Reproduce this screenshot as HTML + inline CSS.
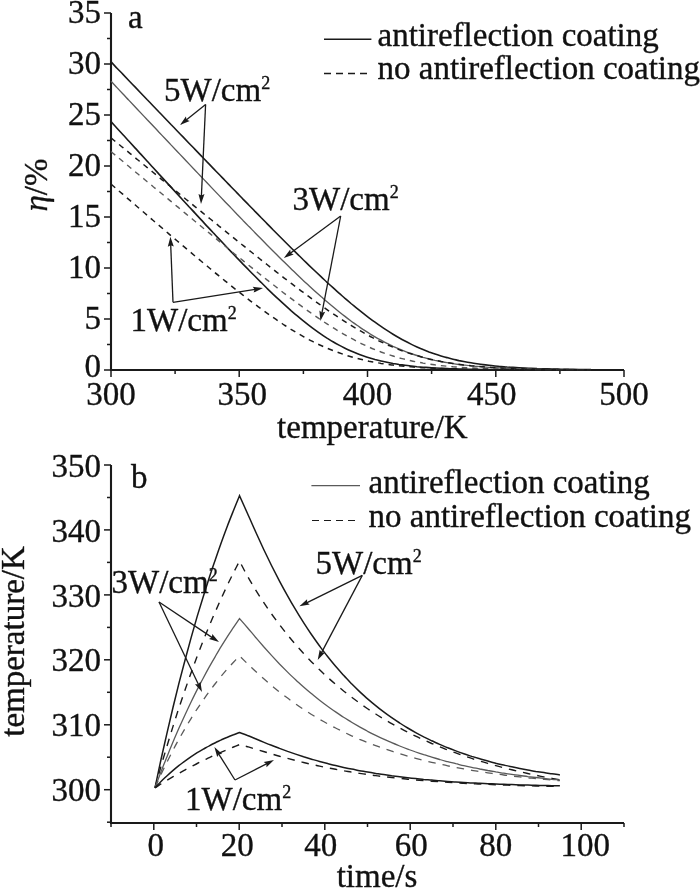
<!DOCTYPE html>
<html><head><meta charset="utf-8"><style>
html,body{margin:0;padding:0;background:#fff;}
svg{display:block;will-change:transform;}
text{font-family:"Liberation Serif",serif;fill:#111;stroke:#111;stroke-width:0.35px;}
</style></head><body>
<svg width="700" height="890" viewBox="0 0 700 890">
<rect width="700" height="890" fill="#fff"/>
<line x1="111.0" y1="13.0" x2="111.0" y2="371.0" stroke="#1a1a1a" stroke-width="2.1" />
<line x1="110.0" y1="370.0" x2="624.0" y2="370.0" stroke="#1a1a1a" stroke-width="2.1" />
<line x1="104.0" y1="370.0" x2="111.0" y2="370.0" stroke="#1a1a1a" stroke-width="1.5" />
<line x1="107.0" y1="344.5" x2="111.0" y2="344.5" stroke="#1a1a1a" stroke-width="1.5" />
<line x1="104.0" y1="319.0" x2="111.0" y2="319.0" stroke="#1a1a1a" stroke-width="1.5" />
<line x1="107.0" y1="293.5" x2="111.0" y2="293.5" stroke="#1a1a1a" stroke-width="1.5" />
<line x1="104.0" y1="268.0" x2="111.0" y2="268.0" stroke="#1a1a1a" stroke-width="1.5" />
<line x1="107.0" y1="242.5" x2="111.0" y2="242.5" stroke="#1a1a1a" stroke-width="1.5" />
<line x1="104.0" y1="217.0" x2="111.0" y2="217.0" stroke="#1a1a1a" stroke-width="1.5" />
<line x1="107.0" y1="191.5" x2="111.0" y2="191.5" stroke="#1a1a1a" stroke-width="1.5" />
<line x1="104.0" y1="166.0" x2="111.0" y2="166.0" stroke="#1a1a1a" stroke-width="1.5" />
<line x1="107.0" y1="140.5" x2="111.0" y2="140.5" stroke="#1a1a1a" stroke-width="1.5" />
<line x1="104.0" y1="115.0" x2="111.0" y2="115.0" stroke="#1a1a1a" stroke-width="1.5" />
<line x1="107.0" y1="89.5" x2="111.0" y2="89.5" stroke="#1a1a1a" stroke-width="1.5" />
<line x1="104.0" y1="64.0" x2="111.0" y2="64.0" stroke="#1a1a1a" stroke-width="1.5" />
<line x1="107.0" y1="38.5" x2="111.0" y2="38.5" stroke="#1a1a1a" stroke-width="1.5" />
<line x1="104.0" y1="13.0" x2="111.0" y2="13.0" stroke="#1a1a1a" stroke-width="1.5" />
<line x1="111.0" y1="370.0" x2="111.0" y2="377.0" stroke="#1a1a1a" stroke-width="1.5" />
<line x1="175.1" y1="370.0" x2="175.1" y2="374.0" stroke="#1a1a1a" stroke-width="1.5" />
<line x1="239.2" y1="370.0" x2="239.2" y2="377.0" stroke="#1a1a1a" stroke-width="1.5" />
<line x1="303.4" y1="370.0" x2="303.4" y2="374.0" stroke="#1a1a1a" stroke-width="1.5" />
<line x1="367.5" y1="370.0" x2="367.5" y2="377.0" stroke="#1a1a1a" stroke-width="1.5" />
<line x1="431.6" y1="370.0" x2="431.6" y2="374.0" stroke="#1a1a1a" stroke-width="1.5" />
<line x1="495.8" y1="370.0" x2="495.8" y2="377.0" stroke="#1a1a1a" stroke-width="1.5" />
<line x1="559.9" y1="370.0" x2="559.9" y2="374.0" stroke="#1a1a1a" stroke-width="1.5" />
<line x1="624.0" y1="370.0" x2="624.0" y2="377.0" stroke="#1a1a1a" stroke-width="1.5" />
<text x="101.0" y="377.0" text-anchor="end" font-size="33" >0</text>
<text x="101.0" y="329.2" text-anchor="end" font-size="33" >5</text>
<text x="101.0" y="278.2" text-anchor="end" font-size="33" >10</text>
<text x="101.0" y="227.2" text-anchor="end" font-size="33" >15</text>
<text x="101.0" y="176.2" text-anchor="end" font-size="33" >20</text>
<text x="101.0" y="125.2" text-anchor="end" font-size="33" >25</text>
<text x="101.0" y="74.2" text-anchor="end" font-size="33" >30</text>
<text x="101.0" y="23.2" text-anchor="end" font-size="33" >35</text>
<text x="111.0" y="404.5" text-anchor="middle" font-size="33" >300</text>
<text x="242.2" y="404.5" text-anchor="middle" font-size="33" >350</text>
<text x="367.5" y="404.5" text-anchor="middle" font-size="33" >400</text>
<text x="491.8" y="404.5" text-anchor="middle" font-size="33" >450</text>
<text x="624.0" y="404.5" text-anchor="middle" font-size="33" >500</text>
<text x="372.4" y="437.6" text-anchor="middle" font-size="33" >temperature/K</text>
<text transform="translate(46.8,185) rotate(-90)" text-anchor="middle" font-size="33"><tspan font-style="italic">η</tspan>/%</text>
<text x="128.0" y="28.0" text-anchor="start" font-size="33" >a</text>
<line x1="324.0" y1="39.3" x2="371.4" y2="39.3" stroke="#1a1a1a" stroke-width="1.6" />
<text x="377.5" y="45.8" text-anchor="start" font-size="33" >antireflection coating</text>
<path d="M324,73.5 L368.6,73.5" fill="none" stroke="#1a1a1a" stroke-width="1.3" stroke-dasharray="7,5"/>
<text x="377.5" y="79.2" text-anchor="start" font-size="33" >no antireflection coating</text>
<path d="M111.0,61.9 C112.0,63.0 115.0,66.1 117.0,68.2 C119.0,70.3 121.0,72.3 123.0,74.4 C125.0,76.5 127.0,78.6 129.0,80.7 C131.0,82.8 133.0,84.9 135.0,86.9 C137.0,89.0 139.0,91.1 141.0,93.2 C143.0,95.3 145.0,97.4 147.0,99.5 C149.0,101.5 151.0,103.6 153.0,105.7 C155.0,107.8 157.0,109.9 159.0,112.0 C161.0,114.0 163.0,116.1 165.0,118.2 C167.0,120.3 169.0,122.4 171.0,124.5 C173.0,126.5 175.0,128.6 177.0,130.7 C179.0,132.8 181.0,134.9 183.0,136.9 C185.0,139.0 187.0,141.1 189.0,143.2 C191.0,145.3 193.0,147.3 195.0,149.4 C197.0,151.5 199.0,153.6 201.0,155.6 C203.0,157.7 205.0,159.8 207.0,161.9 C209.0,163.9 211.0,166.0 213.0,168.1 C215.0,170.2 217.0,172.2 219.0,174.3 C221.0,176.4 223.0,178.4 225.0,180.5 C227.0,182.6 229.0,184.6 231.0,186.7 C233.0,188.8 235.0,190.8 237.0,192.9 C239.0,195.0 241.0,197.0 243.0,199.1 C245.0,201.1 247.0,203.2 249.0,205.2 C251.0,207.3 253.0,209.3 255.0,211.4 C257.0,213.4 259.0,215.4 261.0,217.5 C263.0,219.5 265.0,221.6 267.0,223.6 C269.0,225.6 271.0,227.6 273.0,229.7 C275.0,231.7 277.0,233.7 279.0,235.7 C281.0,237.7 283.0,239.7 285.0,241.7 C287.0,243.7 289.0,245.7 291.0,247.7 C293.0,249.7 295.0,251.6 297.0,253.6 C299.0,255.6 301.0,257.5 303.0,259.5 C305.0,261.4 307.0,263.4 309.0,265.3 C311.0,267.2 313.0,269.1 315.0,271.0 C317.0,272.9 319.0,274.8 321.0,276.7 C323.0,278.6 325.0,280.4 327.0,282.3 C329.0,284.1 331.0,285.9 333.0,287.7 C335.0,289.6 337.0,291.3 339.0,293.1 C341.0,294.9 343.0,296.6 345.0,298.4 C347.0,300.1 349.0,301.8 351.0,303.5 C353.0,305.1 355.0,306.8 357.0,308.4 C359.0,310.0 361.0,311.6 363.0,313.2 C365.0,314.8 367.0,316.3 369.0,317.8 C371.0,319.3 373.0,320.8 375.0,322.2 C377.0,323.7 379.0,325.1 381.0,326.4 C383.0,327.8 385.0,329.1 387.0,330.4 C389.0,331.7 391.0,333.0 393.0,334.2 C395.0,335.4 397.0,336.6 399.0,337.7 C401.0,338.9 403.0,340.0 405.0,341.0 C407.0,342.1 409.0,343.1 411.0,344.1 C413.0,345.1 415.0,346.0 417.0,346.9 C419.0,347.8 421.0,348.7 423.0,349.5 C425.0,350.3 427.0,351.1 429.0,351.9 C431.0,352.6 433.0,353.3 435.0,354.0 C437.0,354.7 439.0,355.3 441.0,355.9 C443.0,356.5 445.0,357.1 447.0,357.6 C449.0,358.2 451.0,358.7 453.0,359.2 C455.0,359.7 457.0,360.1 459.0,360.6 C461.0,361.0 463.0,361.4 465.0,361.8 C467.0,362.2 469.0,362.5 471.0,362.8 C473.0,363.2 475.0,363.5 477.0,363.8 C479.0,364.1 481.0,364.4 483.0,364.6 C485.0,364.9 487.0,365.1 489.0,365.3 C491.0,365.6 493.0,365.8 495.0,366.0 C497.0,366.2 499.0,366.3 501.0,366.5 C503.0,366.7 505.0,366.8 507.0,367.0 C509.0,367.1 511.0,367.3 513.0,367.4 C515.0,367.5 517.0,367.7 519.0,367.8 C521.0,367.9 523.0,368.0 525.0,368.1 C527.0,368.2 529.0,368.3 531.0,368.3 C533.0,368.4 535.0,368.5 537.0,368.6 C539.0,368.6 541.0,368.7 543.0,368.8 C545.0,368.8 547.0,368.9 549.0,368.9 C551.0,369.0 553.0,369.0 555.0,369.1 C557.0,369.1 559.0,369.2 561.0,369.2 C563.0,369.3 565.0,369.3 567.0,369.3 C569.0,369.4 571.0,369.4 573.0,369.4 C575.0,369.5 577.0,369.5 579.0,369.5 C581.0,369.5 583.0,369.6 585.0,369.6 C587.0,369.6 590.0,369.6 591.0,369.6" fill="none" stroke="#1a1a1a" stroke-width="1.6"/>
<path d="M111.0,81.3 C112.0,82.3 115.0,85.5 117.0,87.6 C119.0,89.8 121.0,91.9 123.0,94.0 C125.0,96.1 127.0,98.3 129.0,100.4 C131.0,102.5 133.0,104.6 135.0,106.7 C137.0,108.9 139.0,111.0 141.0,113.1 C143.0,115.2 145.0,117.3 147.0,119.5 C149.0,121.6 151.0,123.7 153.0,125.8 C155.0,127.9 157.0,130.0 159.0,132.2 C161.0,134.3 163.0,136.4 165.0,138.5 C167.0,140.6 169.0,142.7 171.0,144.9 C173.0,147.0 175.0,149.1 177.0,151.2 C179.0,153.3 181.0,155.4 183.0,157.5 C185.0,159.7 187.0,161.8 189.0,163.9 C191.0,166.0 193.0,168.1 195.0,170.2 C197.0,172.3 199.0,174.4 201.0,176.5 C203.0,178.6 205.0,180.7 207.0,182.8 C209.0,184.9 211.0,187.0 213.0,189.1 C215.0,191.2 217.0,193.3 219.0,195.4 C221.0,197.5 223.0,199.6 225.0,201.7 C227.0,203.8 229.0,205.8 231.0,207.9 C233.0,210.0 235.0,212.1 237.0,214.2 C239.0,216.2 241.0,218.3 243.0,220.4 C245.0,222.4 247.0,224.5 249.0,226.6 C251.0,228.6 253.0,230.7 255.0,232.7 C257.0,234.8 259.0,236.8 261.0,238.8 C263.0,240.9 265.0,242.9 267.0,244.9 C269.0,246.9 271.0,248.9 273.0,250.9 C275.0,252.9 277.0,254.9 279.0,256.9 C281.0,258.9 283.0,260.9 285.0,262.8 C287.0,264.8 289.0,266.8 291.0,268.7 C293.0,270.6 295.0,272.6 297.0,274.5 C299.0,276.4 301.0,278.3 303.0,280.2 C305.0,282.0 307.0,283.9 309.0,285.7 C311.0,287.6 313.0,289.4 315.0,291.2 C317.0,293.0 319.0,294.8 321.0,296.6 C323.0,298.3 325.0,300.1 327.0,301.8 C329.0,303.5 331.0,305.2 333.0,306.8 C335.0,308.5 337.0,310.1 339.0,311.7 C341.0,313.3 343.0,314.9 345.0,316.4 C347.0,318.0 349.0,319.5 351.0,321.0 C353.0,322.4 355.0,323.9 357.0,325.3 C359.0,326.7 361.0,328.0 363.0,329.4 C365.0,330.7 367.0,332.0 369.0,333.2 C371.0,334.5 373.0,335.7 375.0,336.8 C377.0,338.0 379.0,339.1 381.0,340.2 C383.0,341.3 385.0,342.4 387.0,343.4 C389.0,344.4 391.0,345.3 393.0,346.3 C395.0,347.2 397.0,348.1 399.0,348.9 C401.0,349.8 403.0,350.6 405.0,351.3 C407.0,352.1 409.0,352.8 411.0,353.5 C413.0,354.2 415.0,354.9 417.0,355.5 C419.0,356.1 421.0,356.7 423.0,357.3 C425.0,357.8 427.0,358.4 429.0,358.9 C431.0,359.4 433.0,359.8 435.0,360.3 C437.0,360.7 439.0,361.1 441.0,361.5 C443.0,361.9 445.0,362.3 447.0,362.6 C449.0,363.0 451.0,363.3 453.0,363.6 C455.0,363.9 457.0,364.2 459.0,364.5 C461.0,364.7 463.0,365.0 465.0,365.2 C467.0,365.4 469.0,365.6 471.0,365.9 C473.0,366.1 475.0,366.2 477.0,366.4 C479.0,366.6 481.0,366.8 483.0,366.9 C485.0,367.1 487.0,367.2 489.0,367.3 C491.0,367.5 493.0,367.6 495.0,367.7 C497.0,367.8 499.0,367.9 501.0,368.0 C503.0,368.1 505.0,368.2 507.0,368.3 C509.0,368.4 511.0,368.5 513.0,368.5 C515.0,368.6 517.0,368.7 519.0,368.7 C521.0,368.8 523.0,368.9 525.0,368.9 C527.0,369.0 529.0,369.0 531.0,369.1 C533.0,369.1 535.0,369.2 537.0,369.2 C539.0,369.2 541.0,369.3 543.0,369.3 C545.0,369.3 547.0,369.4 549.0,369.4 C551.0,369.4 553.0,369.5 555.0,369.5 C557.0,369.5 559.0,369.5 561.0,369.6 C563.0,369.6 565.0,369.6 567.0,369.6 C569.0,369.6 571.0,369.7 573.0,369.7 C575.0,369.7 577.0,369.7 579.0,369.7 C581.0,369.7 583.0,369.8 585.0,369.8 C587.0,369.8 590.0,369.8 591.0,369.8" fill="none" stroke="#5a5a5a" stroke-width="1.35"/>
<path d="M111.0,121.6 C112.0,122.7 115.0,126.0 117.0,128.2 C119.0,130.4 121.0,132.6 123.0,134.8 C125.0,137.0 127.0,139.1 129.0,141.3 C131.0,143.5 133.0,145.7 135.0,147.9 C137.0,150.1 139.0,152.2 141.0,154.4 C143.0,156.6 145.0,158.8 147.0,161.0 C149.0,163.2 151.0,165.3 153.0,167.5 C155.0,169.7 157.0,171.9 159.0,174.1 C161.0,176.2 163.0,178.4 165.0,180.6 C167.0,182.8 169.0,185.0 171.0,187.1 C173.0,189.3 175.0,191.5 177.0,193.6 C179.0,195.8 181.0,198.0 183.0,200.2 C185.0,202.3 187.0,204.5 189.0,206.7 C191.0,208.8 193.0,211.0 195.0,213.1 C197.0,215.3 199.0,217.5 201.0,219.6 C203.0,221.8 205.0,223.9 207.0,226.1 C209.0,228.2 211.0,230.3 213.0,232.5 C215.0,234.6 217.0,236.8 219.0,238.9 C221.0,241.0 223.0,243.1 225.0,245.2 C227.0,247.4 229.0,249.5 231.0,251.6 C233.0,253.7 235.0,255.8 237.0,257.9 C239.0,259.9 241.0,262.0 243.0,264.1 C245.0,266.1 247.0,268.2 249.0,270.2 C251.0,272.3 253.0,274.3 255.0,276.3 C257.0,278.4 259.0,280.4 261.0,282.3 C263.0,284.3 265.0,286.3 267.0,288.3 C269.0,290.2 271.0,292.1 273.0,294.1 C275.0,296.0 277.0,297.9 279.0,299.7 C281.0,301.6 283.0,303.4 285.0,305.2 C287.0,307.0 289.0,308.8 291.0,310.6 C293.0,312.3 295.0,314.1 297.0,315.7 C299.0,317.4 301.0,319.1 303.0,320.7 C305.0,322.3 307.0,323.9 309.0,325.4 C311.0,327.0 313.0,328.5 315.0,329.9 C317.0,331.4 319.0,332.8 321.0,334.1 C323.0,335.5 325.0,336.8 327.0,338.1 C329.0,339.3 331.0,340.6 333.0,341.7 C335.0,342.9 337.0,344.0 339.0,345.1 C341.0,346.2 343.0,347.2 345.0,348.2 C347.0,349.2 349.0,350.1 351.0,351.0 C353.0,351.9 355.0,352.7 357.0,353.5 C359.0,354.3 361.0,355.0 363.0,355.7 C365.0,356.4 367.0,357.1 369.0,357.7 C371.0,358.3 373.0,358.9 375.0,359.5 C377.0,360.0 379.0,360.5 381.0,361.0 C383.0,361.5 385.0,361.9 387.0,362.3 C389.0,362.7 391.0,363.1 393.0,363.5 C395.0,363.8 397.0,364.1 399.0,364.5 C401.0,364.8 403.0,365.0 405.0,365.3 C407.0,365.6 409.0,365.8 411.0,366.0 C413.0,366.3 415.0,366.5 417.0,366.7 C419.0,366.8 421.0,367.0 423.0,367.2 C425.0,367.3 427.0,367.5 429.0,367.6 C431.0,367.8 433.0,367.9 435.0,368.0 C437.0,368.1 439.0,368.2 441.0,368.3 C443.0,368.4 445.0,368.5 447.0,368.6 C449.0,368.7 451.0,368.7 453.0,368.8 C455.0,368.9 457.0,368.9 459.0,369.0 C461.0,369.1 463.0,369.1 465.0,369.2 C467.0,369.2 469.0,369.3 471.0,369.3 C473.0,369.3 475.0,369.4 477.0,369.4 C479.0,369.4 481.0,369.5 483.0,369.5 C485.0,369.5 487.0,369.6 489.0,369.6 C491.0,369.6 493.0,369.6 495.0,369.7 C497.0,369.7 499.0,369.7 501.0,369.7 C503.0,369.7 505.0,369.7 507.0,369.8 C509.0,369.8 511.0,369.8 513.0,369.8 C515.0,369.8 517.0,369.8 519.0,369.8 C521.0,369.8 523.0,369.9 525.0,369.9 C527.0,369.9 529.0,369.9 531.0,369.9 C533.0,369.9 535.0,369.9 537.0,369.9 C539.0,369.9 541.0,369.9 543.0,369.9 C545.0,369.9 547.0,369.9 549.0,369.9 C551.0,369.9 553.0,369.9 555.0,369.9 C557.0,369.9 559.0,369.9 561.0,370.0 C563.0,370.0 565.0,370.0 567.0,370.0 C569.0,370.0 571.0,370.0 573.0,370.0 C575.0,370.0 577.0,370.0 579.0,370.0 C581.0,370.0 583.0,370.0 585.0,370.0 C587.0,370.0 590.0,370.0 591.0,370.0" fill="none" stroke="#1a1a1a" stroke-width="1.6"/>
<path d="M111.0,137.9 C112.0,138.7 115.0,141.2 117.0,142.8 C119.0,144.4 121.0,146.1 123.0,147.7 C125.0,149.4 127.0,151.0 129.0,152.6 C131.0,154.3 133.0,155.9 135.0,157.5 C137.0,159.2 139.0,160.8 141.0,162.5 C143.0,164.1 145.0,165.7 147.0,167.4 C149.0,169.0 151.0,170.6 153.0,172.3 C155.0,173.9 157.0,175.5 159.0,177.2 C161.0,178.8 163.0,180.4 165.0,182.1 C167.0,183.7 169.0,185.3 171.0,187.0 C173.0,188.6 175.0,190.2 177.0,191.9 C179.0,193.5 181.0,195.1 183.0,196.8 C185.0,198.4 187.0,200.0 189.0,201.7 C191.0,203.3 193.0,204.9 195.0,206.6 C197.0,208.2 199.0,209.8 201.0,211.4 C203.0,213.1 205.0,214.7 207.0,216.3 C209.0,217.9 211.0,219.6 213.0,221.2 C215.0,222.8 217.0,224.4 219.0,226.1 C221.0,227.7 223.0,229.3 225.0,230.9 C227.0,232.5 229.0,234.1 231.0,235.8 C233.0,237.4 235.0,239.0 237.0,240.6 C239.0,242.2 241.0,243.8 243.0,245.4 C245.0,247.0 247.0,248.6 249.0,250.2 C251.0,251.8 253.0,253.4 255.0,255.0 C257.0,256.6 259.0,258.2 261.0,259.8 C263.0,261.4 265.0,262.9 267.0,264.5 C269.0,266.1 271.0,267.7 273.0,269.2 C275.0,270.8 277.0,272.4 279.0,273.9 C281.0,275.5 283.0,277.0 285.0,278.6 C287.0,280.1 289.0,281.6 291.0,283.2 C293.0,284.7 295.0,286.2 297.0,287.7 C299.0,289.2 301.0,290.8 303.0,292.2 C305.0,293.7 307.0,295.2 309.0,296.7 C311.0,298.2 313.0,299.6 315.0,301.1 C317.0,302.5 319.0,303.9 321.0,305.4 C323.0,306.8 325.0,308.2 327.0,309.6 C329.0,311.0 331.0,312.3 333.0,313.7 C335.0,315.0 337.0,316.4 339.0,317.7 C341.0,319.0 343.0,320.3 345.0,321.6 C347.0,322.9 349.0,324.1 351.0,325.3 C353.0,326.6 355.0,327.8 357.0,329.0 C359.0,330.1 361.0,331.3 363.0,332.4 C365.0,333.5 367.0,334.6 369.0,335.7 C371.0,336.8 373.0,337.8 375.0,338.9 C377.0,339.9 379.0,340.9 381.0,341.8 C383.0,342.8 385.0,343.7 387.0,344.6 C389.0,345.5 391.0,346.3 393.0,347.2 C395.0,348.0 397.0,348.8 399.0,349.6 C401.0,350.4 403.0,351.1 405.0,351.8 C407.0,352.5 409.0,353.2 411.0,353.8 C413.0,354.5 415.0,355.1 417.0,355.7 C419.0,356.3 421.0,356.8 423.0,357.4 C425.0,357.9 427.0,358.4 429.0,358.9 C431.0,359.4 433.0,359.8 435.0,360.2 C437.0,360.7 439.0,361.1 441.0,361.5 C443.0,361.8 445.0,362.2 447.0,362.5 C449.0,362.9 451.0,363.2 453.0,363.5 C455.0,363.8 457.0,364.1 459.0,364.3 C461.0,364.6 463.0,364.8 465.0,365.1 C467.0,365.3 469.0,365.5 471.0,365.7 C473.0,365.9 475.0,366.1 477.0,366.3 C479.0,366.5 481.0,366.6 483.0,366.8 C485.0,367.0 487.0,367.1 489.0,367.2 C491.0,367.4 493.0,367.5 495.0,367.6 C497.0,367.7 499.0,367.8 501.0,367.9 C503.0,368.0 505.0,368.1 507.0,368.2 C509.0,368.3 511.0,368.4 513.0,368.5 C515.0,368.5 517.0,368.6 519.0,368.7 C521.0,368.7 523.0,368.8 525.0,368.9 C527.0,368.9 529.0,369.0 531.0,369.0 C533.0,369.1 535.0,369.1 537.0,369.2 C539.0,369.2 541.0,369.2 543.0,369.3 C545.0,369.3 547.0,369.3 549.0,369.4 C551.0,369.4 553.0,369.4 555.0,369.5 C557.0,369.5 559.0,369.5 561.0,369.5 C563.0,369.6 565.0,369.6 567.0,369.6 C569.0,369.6 571.0,369.6 573.0,369.7 C575.0,369.7 577.0,369.7 579.0,369.7 C581.0,369.7 583.0,369.7 585.0,369.8 C587.0,369.8 590.0,369.8 591.0,369.8" fill="none" stroke="#1a1a1a" stroke-width="1.5" stroke-dasharray="5.5,5"/>
<path d="M111.0,151.5 C112.0,152.4 115.0,154.9 117.0,156.5 C119.0,158.2 121.0,159.9 123.0,161.5 C125.0,163.2 127.0,164.8 129.0,166.5 C131.0,168.2 133.0,169.8 135.0,171.5 C137.0,173.2 139.0,174.8 141.0,176.5 C143.0,178.2 145.0,179.8 147.0,181.5 C149.0,183.1 151.0,184.8 153.0,186.5 C155.0,188.1 157.0,189.8 159.0,191.4 C161.0,193.1 163.0,194.8 165.0,196.4 C167.0,198.1 169.0,199.7 171.0,201.4 C173.0,203.1 175.0,204.7 177.0,206.4 C179.0,208.0 181.0,209.7 183.0,211.4 C185.0,213.0 187.0,214.7 189.0,216.3 C191.0,218.0 193.0,219.6 195.0,221.3 C197.0,222.9 199.0,224.6 201.0,226.2 C203.0,227.9 205.0,229.5 207.0,231.2 C209.0,232.8 211.0,234.5 213.0,236.1 C215.0,237.8 217.0,239.4 219.0,241.1 C221.0,242.7 223.0,244.3 225.0,246.0 C227.0,247.6 229.0,249.3 231.0,250.9 C233.0,252.5 235.0,254.1 237.0,255.8 C239.0,257.4 241.0,259.0 243.0,260.6 C245.0,262.3 247.0,263.9 249.0,265.5 C251.0,267.1 253.0,268.7 255.0,270.3 C257.0,271.9 259.0,273.5 261.0,275.1 C263.0,276.7 265.0,278.3 267.0,279.9 C269.0,281.4 271.0,283.0 273.0,284.6 C275.0,286.1 277.0,287.7 279.0,289.3 C281.0,290.8 283.0,292.3 285.0,293.9 C287.0,295.4 289.0,296.9 291.0,298.4 C293.0,299.9 295.0,301.4 297.0,302.9 C299.0,304.4 301.0,305.9 303.0,307.3 C305.0,308.8 307.0,310.2 309.0,311.6 C311.0,313.1 313.0,314.5 315.0,315.8 C317.0,317.2 319.0,318.6 321.0,319.9 C323.0,321.3 325.0,322.6 327.0,323.9 C329.0,325.2 331.0,326.5 333.0,327.7 C335.0,329.0 337.0,330.2 339.0,331.4 C341.0,332.6 343.0,333.8 345.0,334.9 C347.0,336.1 349.0,337.2 351.0,338.2 C353.0,339.3 355.0,340.4 357.0,341.4 C359.0,342.4 361.0,343.4 363.0,344.3 C365.0,345.3 367.0,346.2 369.0,347.1 C371.0,348.0 373.0,348.8 375.0,349.6 C377.0,350.4 379.0,351.2 381.0,352.0 C383.0,352.7 385.0,353.4 387.0,354.1 C389.0,354.8 391.0,355.4 393.0,356.0 C395.0,356.7 397.0,357.2 399.0,357.8 C401.0,358.3 403.0,358.9 405.0,359.3 C407.0,359.8 409.0,360.3 411.0,360.7 C413.0,361.2 415.0,361.6 417.0,362.0 C419.0,362.4 421.0,362.7 423.0,363.1 C425.0,363.4 427.0,363.7 429.0,364.0 C431.0,364.3 433.0,364.6 435.0,364.9 C437.0,365.1 439.0,365.4 441.0,365.6 C443.0,365.8 445.0,366.0 447.0,366.2 C449.0,366.4 451.0,366.6 453.0,366.8 C455.0,366.9 457.0,367.1 459.0,367.2 C461.0,367.4 463.0,367.5 465.0,367.6 C467.0,367.8 469.0,367.9 471.0,368.0 C473.0,368.1 475.0,368.2 477.0,368.3 C479.0,368.4 481.0,368.5 483.0,368.5 C485.0,368.6 487.0,368.7 489.0,368.7 C491.0,368.8 493.0,368.9 495.0,368.9 C497.0,369.0 499.0,369.0 501.0,369.1 C503.0,369.1 505.0,369.2 507.0,369.2 C509.0,369.3 511.0,369.3 513.0,369.3 C515.0,369.4 517.0,369.4 519.0,369.4 C521.0,369.5 523.0,369.5 525.0,369.5 C527.0,369.6 529.0,369.6 531.0,369.6 C533.0,369.6 535.0,369.6 537.0,369.7 C539.0,369.7 541.0,369.7 543.0,369.7 C545.0,369.7 547.0,369.7 549.0,369.8 C551.0,369.8 553.0,369.8 555.0,369.8 C557.0,369.8 559.0,369.8 561.0,369.8 C563.0,369.8 565.0,369.8 567.0,369.8 C569.0,369.9 571.0,369.9 573.0,369.9 C575.0,369.9 577.0,369.9 579.0,369.9 C581.0,369.9 583.0,369.9 585.0,369.9 C587.0,369.9 590.0,369.9 591.0,369.9" fill="none" stroke="#5a5a5a" stroke-width="1.4" stroke-dasharray="5.5,5"/>
<path d="M111.0,184.1 C112.0,184.9 115.0,187.5 117.0,189.3 C119.0,191.0 121.0,192.7 123.0,194.4 C125.0,196.2 127.0,197.9 129.0,199.6 C131.0,201.3 133.0,203.1 135.0,204.8 C137.0,206.5 139.0,208.2 141.0,209.9 C143.0,211.7 145.0,213.4 147.0,215.1 C149.0,216.8 151.0,218.5 153.0,220.3 C155.0,222.0 157.0,223.7 159.0,225.4 C161.0,227.1 163.0,228.8 165.0,230.5 C167.0,232.2 169.0,234.0 171.0,235.7 C173.0,237.4 175.0,239.1 177.0,240.8 C179.0,242.5 181.0,244.2 183.0,245.9 C185.0,247.6 187.0,249.2 189.0,250.9 C191.0,252.6 193.0,254.3 195.0,256.0 C197.0,257.7 199.0,259.4 201.0,261.0 C203.0,262.7 205.0,264.4 207.0,266.0 C209.0,267.7 211.0,269.3 213.0,271.0 C215.0,272.7 217.0,274.3 219.0,275.9 C221.0,277.6 223.0,279.2 225.0,280.8 C227.0,282.4 229.0,284.1 231.0,285.7 C233.0,287.3 235.0,288.9 237.0,290.4 C239.0,292.0 241.0,293.6 243.0,295.2 C245.0,296.7 247.0,298.3 249.0,299.8 C251.0,301.3 253.0,302.9 255.0,304.4 C257.0,305.9 259.0,307.3 261.0,308.8 C263.0,310.3 265.0,311.7 267.0,313.2 C269.0,314.6 271.0,316.0 273.0,317.4 C275.0,318.8 277.0,320.2 279.0,321.5 C281.0,322.8 283.0,324.2 285.0,325.5 C287.0,326.8 289.0,328.0 291.0,329.3 C293.0,330.5 295.0,331.7 297.0,332.9 C299.0,334.1 301.0,335.2 303.0,336.3 C305.0,337.5 307.0,338.5 309.0,339.6 C311.0,340.6 313.0,341.7 315.0,342.7 C317.0,343.6 319.0,344.6 321.0,345.5 C323.0,346.4 325.0,347.3 327.0,348.2 C329.0,349.0 331.0,349.8 333.0,350.6 C335.0,351.4 337.0,352.1 339.0,352.8 C341.0,353.5 343.0,354.2 345.0,354.9 C347.0,355.5 349.0,356.1 351.0,356.7 C353.0,357.3 355.0,357.8 357.0,358.4 C359.0,358.9 361.0,359.4 363.0,359.8 C365.0,360.3 367.0,360.7 369.0,361.2 C371.0,361.6 373.0,362.0 375.0,362.3 C377.0,362.7 379.0,363.0 381.0,363.4 C383.0,363.7 385.0,364.0 387.0,364.3 C389.0,364.5 391.0,364.8 393.0,365.0 C395.0,365.3 397.0,365.5 399.0,365.7 C401.0,365.9 403.0,366.1 405.0,366.3 C407.0,366.5 409.0,366.7 411.0,366.8 C413.0,367.0 415.0,367.2 417.0,367.3 C419.0,367.4 421.0,367.6 423.0,367.7 C425.0,367.8 427.0,367.9 429.0,368.0 C431.0,368.1 433.0,368.2 435.0,368.3 C437.0,368.4 439.0,368.5 441.0,368.5 C443.0,368.6 445.0,368.7 447.0,368.8 C449.0,368.8 451.0,368.9 453.0,368.9 C455.0,369.0 457.0,369.0 459.0,369.1 C461.0,369.1 463.0,369.2 465.0,369.2 C467.0,369.3 469.0,369.3 471.0,369.3 C473.0,369.4 475.0,369.4 477.0,369.4 C479.0,369.5 481.0,369.5 483.0,369.5 C485.0,369.5 487.0,369.6 489.0,369.6 C491.0,369.6 493.0,369.6 495.0,369.6 C497.0,369.7 499.0,369.7 501.0,369.7 C503.0,369.7 505.0,369.7 507.0,369.7 C509.0,369.8 511.0,369.8 513.0,369.8 C515.0,369.8 517.0,369.8 519.0,369.8 C521.0,369.8 523.0,369.8 525.0,369.8 C527.0,369.9 529.0,369.9 531.0,369.9 C533.0,369.9 535.0,369.9 537.0,369.9 C539.0,369.9 541.0,369.9 543.0,369.9 C545.0,369.9 547.0,369.9 549.0,369.9 C551.0,369.9 553.0,369.9 555.0,369.9 C557.0,369.9 559.0,369.9 561.0,369.9 C563.0,369.9 565.0,369.9 567.0,369.9 C569.0,370.0 571.0,370.0 573.0,370.0 C575.0,370.0 577.0,370.0 579.0,370.0 C581.0,370.0 583.0,370.0 585.0,370.0 C587.0,370.0 590.0,370.0 591.0,370.0" fill="none" stroke="#1a1a1a" stroke-width="1.5" stroke-dasharray="5.5,5"/>
<text x="164.0" y="101.0" font-size="33">5W/cm<tspan font-size="18" dy="-12">2</tspan></text>
<line x1="205.6" y1="104.4" x2="186.2" y2="120.0" stroke="#1a1a1a" stroke-width="1.3" />
<polygon points="180.0,125.0 185.9,116.4 186.6,119.7 189.7,121.1" fill="#1a1a1a"/>
<line x1="205.6" y1="104.4" x2="201.4" y2="196.0" stroke="#1a1a1a" stroke-width="1.3" />
<polygon points="201.0,204.0 198.5,193.9 201.4,195.5 204.5,194.1" fill="#1a1a1a"/>
<text x="292.5" y="209.6" font-size="33">3W/cm<tspan font-size="18" dy="-12">2</tspan></text>
<line x1="340.7" y1="216.0" x2="290.3" y2="253.2" stroke="#1a1a1a" stroke-width="1.3" />
<polygon points="283.9,257.9 290.2,249.5 290.7,252.9 293.7,254.4" fill="#1a1a1a"/>
<line x1="340.7" y1="216.0" x2="321.9" y2="313.1" stroke="#1a1a1a" stroke-width="1.3" />
<polygon points="320.4,321.0 319.4,310.6 322.0,312.7 325.2,311.8" fill="#1a1a1a"/>
<text x="130.5" y="330.6" font-size="33">1W/cm<tspan font-size="18" dy="-12">2</tspan></text>
<line x1="173.0" y1="302.3" x2="170.7" y2="244.7" stroke="#1a1a1a" stroke-width="1.3" />
<polygon points="170.4,236.7 173.8,246.6 170.7,245.2 167.8,246.8" fill="#1a1a1a"/>
<line x1="173.0" y1="302.3" x2="255.1" y2="289.3" stroke="#1a1a1a" stroke-width="1.3" />
<polygon points="263.0,288.1 253.6,292.6 254.6,289.4 252.7,286.7" fill="#1a1a1a"/>
<line x1="111.0" y1="465.0" x2="111.0" y2="824.0" stroke="#1a1a1a" stroke-width="2.1" />
<line x1="110.0" y1="823.0" x2="624.0" y2="823.0" stroke="#1a1a1a" stroke-width="2.1" />
<line x1="107.0" y1="822.2" x2="111.0" y2="822.2" stroke="#1a1a1a" stroke-width="1.5" />
<line x1="104.0" y1="789.7" x2="111.0" y2="789.7" stroke="#1a1a1a" stroke-width="1.5" />
<line x1="107.0" y1="757.2" x2="111.0" y2="757.2" stroke="#1a1a1a" stroke-width="1.5" />
<line x1="104.0" y1="724.8" x2="111.0" y2="724.8" stroke="#1a1a1a" stroke-width="1.5" />
<line x1="107.0" y1="692.3" x2="111.0" y2="692.3" stroke="#1a1a1a" stroke-width="1.5" />
<line x1="104.0" y1="659.8" x2="111.0" y2="659.8" stroke="#1a1a1a" stroke-width="1.5" />
<line x1="107.0" y1="627.4" x2="111.0" y2="627.4" stroke="#1a1a1a" stroke-width="1.5" />
<line x1="104.0" y1="594.9" x2="111.0" y2="594.9" stroke="#1a1a1a" stroke-width="1.5" />
<line x1="107.0" y1="562.4" x2="111.0" y2="562.4" stroke="#1a1a1a" stroke-width="1.5" />
<line x1="104.0" y1="529.9" x2="111.0" y2="529.9" stroke="#1a1a1a" stroke-width="1.5" />
<line x1="107.0" y1="497.5" x2="111.0" y2="497.5" stroke="#1a1a1a" stroke-width="1.5" />
<line x1="104.0" y1="465.0" x2="111.0" y2="465.0" stroke="#1a1a1a" stroke-width="1.5" />
<line x1="111.0" y1="823.0" x2="111.0" y2="827.0" stroke="#1a1a1a" stroke-width="1.5" />
<line x1="153.8" y1="823.0" x2="153.8" y2="830.0" stroke="#1a1a1a" stroke-width="1.5" />
<line x1="196.5" y1="823.0" x2="196.5" y2="827.0" stroke="#1a1a1a" stroke-width="1.5" />
<line x1="239.2" y1="823.0" x2="239.2" y2="830.0" stroke="#1a1a1a" stroke-width="1.5" />
<line x1="282.0" y1="823.0" x2="282.0" y2="827.0" stroke="#1a1a1a" stroke-width="1.5" />
<line x1="324.8" y1="823.0" x2="324.8" y2="830.0" stroke="#1a1a1a" stroke-width="1.5" />
<line x1="367.5" y1="823.0" x2="367.5" y2="827.0" stroke="#1a1a1a" stroke-width="1.5" />
<line x1="410.2" y1="823.0" x2="410.2" y2="830.0" stroke="#1a1a1a" stroke-width="1.5" />
<line x1="453.0" y1="823.0" x2="453.0" y2="827.0" stroke="#1a1a1a" stroke-width="1.5" />
<line x1="495.8" y1="823.0" x2="495.8" y2="830.0" stroke="#1a1a1a" stroke-width="1.5" />
<line x1="538.5" y1="823.0" x2="538.5" y2="827.0" stroke="#1a1a1a" stroke-width="1.5" />
<line x1="581.2" y1="823.0" x2="581.2" y2="830.0" stroke="#1a1a1a" stroke-width="1.5" />
<line x1="624.0" y1="823.0" x2="624.0" y2="827.0" stroke="#1a1a1a" stroke-width="1.5" />
<text x="101.0" y="800.5" text-anchor="end" font-size="33" >300</text>
<text x="101.0" y="735.6" text-anchor="end" font-size="33" >310</text>
<text x="101.0" y="670.8" text-anchor="end" font-size="33" >320</text>
<text x="101.0" y="606.7" text-anchor="end" font-size="33" >330</text>
<text x="101.0" y="542.2" text-anchor="end" font-size="33" >340</text>
<text x="101.0" y="477.3" text-anchor="end" font-size="33" >350</text>
<text x="155.8" y="855.5" text-anchor="middle" font-size="33" >0</text>
<text x="237.2" y="855.5" text-anchor="middle" font-size="33" >20</text>
<text x="320.8" y="855.5" text-anchor="middle" font-size="33" >40</text>
<text x="411.2" y="855.5" text-anchor="middle" font-size="33" >60</text>
<text x="495.8" y="855.5" text-anchor="middle" font-size="33" >80</text>
<text x="585.2" y="855.5" text-anchor="middle" font-size="33" >100</text>
<text x="377.0" y="887.4" text-anchor="middle" font-size="33" >time/s</text>
<text transform="translate(24.2,641.5) rotate(-90)" text-anchor="middle" font-size="33">temperature/K</text>
<text x="131.0" y="488.0" text-anchor="start" font-size="33" >b</text>
<line x1="311.4" y1="485.7" x2="360.0" y2="485.7" stroke="#5a5a5a" stroke-width="1.2" />
<text x="368.5" y="492.9" text-anchor="start" font-size="33" >antireflection coating</text>
<path d="M312,520.5 L357,520.5" fill="none" stroke="#1a1a1a" stroke-width="1.2" stroke-dasharray="7,5"/>
<text x="368.5" y="527.1" text-anchor="start" font-size="33" >no antireflection coating</text>
<path d="M155.0,787.8 C156.0,783.1 159.0,768.7 161.0,759.5 C163.0,750.3 165.1,741.3 167.1,732.6 C169.1,723.8 171.1,715.3 173.1,707.0 C175.1,698.7 177.1,690.5 179.1,682.6 C181.2,674.7 183.2,667.0 185.2,659.5 C187.2,651.9 189.2,644.6 191.2,637.4 C193.2,630.2 195.2,623.3 197.2,616.4 C199.3,609.6 201.3,603.0 203.3,596.5 C205.3,590.0 207.3,583.7 209.3,577.5 C211.3,571.4 213.3,565.4 215.4,559.5 C217.4,553.6 219.4,547.9 221.4,542.3 C223.4,536.7 225.4,531.3 227.4,526.0 C229.4,520.7 231.5,515.5 233.5,510.5 C235.5,505.4 238.5,498.2 239.5,495.7 L239.5,495.7 C240.8,498.7 244.8,507.5 247.5,513.5 C250.2,519.4 252.8,525.6 255.5,531.5 C258.2,537.5 260.9,543.3 263.5,549.0 C266.2,554.6 268.9,560.2 271.5,565.5 C274.2,570.9 276.9,576.1 279.5,581.2 C282.2,586.3 284.9,591.2 287.6,595.9 C290.2,600.7 292.9,605.3 295.6,609.7 C298.2,614.2 300.9,618.5 303.6,622.7 C306.2,626.8 308.9,630.8 311.6,634.7 C314.3,638.6 316.9,642.4 319.6,646.0 C322.3,649.6 324.9,653.1 327.6,656.5 C330.3,659.9 332.9,663.1 335.6,666.3 C338.3,669.4 341.0,672.4 343.6,675.3 C346.3,678.3 349.0,681.1 351.6,683.8 C354.3,686.5 357.0,689.1 359.6,691.6 C362.3,694.1 365.0,696.6 367.6,698.9 C370.3,701.2 373.0,703.5 375.7,705.6 C378.3,707.8 381.0,709.9 383.7,711.9 C386.3,713.9 389.0,715.8 391.7,717.7 C394.3,719.5 397.0,721.3 399.7,723.0 C402.4,724.8 405.0,726.4 407.7,728.0 C410.4,729.6 413.0,731.1 415.7,732.6 C418.4,734.1 421.0,735.5 423.7,736.9 C426.4,738.2 429.1,739.5 431.7,740.8 C434.4,742.0 437.1,743.3 439.7,744.4 C442.4,745.6 445.1,746.7 447.7,747.8 C450.4,748.9 453.1,749.9 455.8,750.9 C458.4,751.9 461.1,752.8 463.8,753.7 C466.4,754.7 469.1,755.5 471.8,756.4 C474.4,757.2 477.1,758.0 479.8,758.8 C482.5,759.6 485.1,760.4 487.8,761.1 C490.5,761.8 493.1,762.5 495.8,763.2 C498.5,763.8 501.1,764.5 503.8,765.1 C506.5,765.7 509.1,766.3 511.8,766.8 C514.5,767.4 517.2,768.0 519.8,768.5 C522.5,769.0 525.2,769.5 527.8,770.0 C530.5,770.5 533.2,770.9 535.8,771.4 C538.5,771.8 541.2,772.2 543.9,772.6 C546.5,773.1 549.2,773.4 551.9,773.8 C554.5,774.2 558.5,774.7 559.9,774.9" fill="none" stroke="#1a1a1a" stroke-width="1.5"/>
<path d="M155.0,787.8 C156.0,784.2 159.0,773.3 161.0,766.3 C163.0,759.3 165.1,752.4 167.1,745.7 C169.1,739.0 171.1,732.5 173.1,726.1 C175.1,719.7 177.1,713.5 179.1,707.4 C181.2,701.3 183.2,695.3 185.2,689.5 C187.2,683.7 189.2,678.0 191.2,672.4 C193.2,666.9 195.2,661.4 197.2,656.1 C199.3,650.8 201.3,645.6 203.3,640.6 C205.3,635.5 207.3,630.6 209.3,625.7 C211.3,620.9 213.3,616.2 215.4,611.6 C217.4,606.9 219.4,602.4 221.4,598.0 C223.4,593.6 225.4,589.3 227.4,585.1 C229.4,580.9 231.5,576.8 233.5,572.8 C235.5,568.8 238.5,563.0 239.5,561.0 L239.5,561.0 C240.8,563.5 244.8,571.4 247.5,576.2 C250.2,581.0 252.8,585.4 255.5,589.7 C258.2,594.1 260.9,598.2 263.5,602.2 C266.2,606.3 268.9,610.1 271.5,613.9 C274.2,617.6 276.9,621.2 279.5,624.7 C282.2,628.2 284.9,631.6 287.6,634.9 C290.2,638.2 292.9,641.4 295.6,644.5 C298.2,647.6 300.9,650.5 303.6,653.4 C306.2,656.3 308.9,659.1 311.6,661.9 C314.3,664.6 316.9,667.2 319.6,669.8 C322.3,672.4 324.9,674.9 327.6,677.3 C330.3,679.7 332.9,682.0 335.6,684.3 C338.3,686.6 341.0,688.8 343.6,691.0 C346.3,693.1 349.0,695.2 351.6,697.2 C354.3,699.2 357.0,701.2 359.6,703.1 C362.3,705.0 365.0,706.9 367.6,708.7 C370.3,710.5 373.0,712.3 375.7,714.0 C378.3,715.7 381.0,717.3 383.7,718.9 C386.3,720.5 389.0,722.1 391.7,723.6 C394.3,725.1 397.0,726.6 399.7,728.0 C402.4,729.5 405.0,730.9 407.7,732.2 C410.4,733.6 413.0,734.9 415.7,736.2 C418.4,737.5 421.0,738.7 423.7,739.9 C426.4,741.1 429.1,742.3 431.7,743.5 C434.4,744.6 437.1,745.7 439.7,746.8 C442.4,747.9 445.1,748.9 447.7,750.0 C450.4,751.0 453.1,752.0 455.8,752.9 C458.4,753.9 461.1,754.8 463.8,755.8 C466.4,756.7 469.1,757.6 471.8,758.4 C474.4,759.3 477.1,760.1 479.8,761.0 C482.5,761.8 485.1,762.6 487.8,763.4 C490.5,764.1 493.1,764.9 495.8,765.6 C498.5,766.4 501.1,767.1 503.8,767.8 C506.5,768.5 509.1,769.1 511.8,769.8 C514.5,770.5 517.2,771.1 519.8,771.7 C522.5,772.3 525.2,772.9 527.8,773.5 C530.5,774.1 533.2,774.7 535.8,775.3 C538.5,775.8 541.2,776.4 543.9,776.9 C546.5,777.4 549.2,777.9 551.9,778.4 C554.5,778.9 558.5,779.6 559.9,779.9" fill="none" stroke="#1a1a1a" stroke-width="1.4" stroke-dasharray="7.5,7"/>
<path d="M155.0,787.8 C156.0,785.1 159.0,777.0 161.0,771.7 C163.0,766.5 165.1,761.4 167.1,756.4 C169.1,751.4 171.1,746.5 173.1,741.8 C175.1,737.0 177.1,732.4 179.1,727.8 C181.2,723.2 183.2,718.8 185.2,714.5 C187.2,710.1 189.2,705.9 191.2,701.7 C193.2,697.6 195.2,693.5 197.2,689.6 C199.3,685.6 201.3,681.7 203.3,678.0 C205.3,674.2 207.3,670.5 209.3,666.9 C211.3,663.3 213.3,659.8 215.4,656.3 C217.4,652.9 219.4,649.5 221.4,646.2 C223.4,642.9 225.4,639.7 227.4,636.6 C229.4,633.4 231.5,630.4 233.5,627.4 C235.5,624.4 238.5,620.1 239.5,618.6 L239.5,618.6 C240.8,620.1 244.8,624.6 247.5,627.7 C250.2,630.8 252.8,634.1 255.5,637.2 C258.2,640.3 260.9,643.5 263.5,646.5 C266.2,649.5 268.9,652.5 271.5,655.4 C274.2,658.3 276.9,661.2 279.5,664.0 C282.2,666.7 284.9,669.4 287.6,672.1 C290.2,674.7 292.9,677.2 295.6,679.7 C298.2,682.2 300.9,684.6 303.6,687.0 C306.2,689.3 308.9,691.6 311.6,693.8 C314.3,696.0 316.9,698.2 319.6,700.2 C322.3,702.3 324.9,704.3 327.6,706.3 C330.3,708.2 332.9,710.1 335.6,711.9 C338.3,713.8 341.0,715.5 343.6,717.3 C346.3,719.0 349.0,720.6 351.6,722.2 C354.3,723.8 357.0,725.4 359.6,726.9 C362.3,728.4 365.0,729.8 367.6,731.3 C370.3,732.7 373.0,734.0 375.7,735.3 C378.3,736.6 381.0,737.9 383.7,739.1 C386.3,740.4 389.0,741.5 391.7,742.7 C394.3,743.8 397.0,744.9 399.7,746.0 C402.4,747.1 405.0,748.1 407.7,749.1 C410.4,750.1 413.0,751.1 415.7,752.0 C418.4,752.9 421.0,753.8 423.7,754.7 C426.4,755.5 429.1,756.4 431.7,757.2 C434.4,758.0 437.1,758.8 439.7,759.5 C442.4,760.3 445.1,761.0 447.7,761.7 C450.4,762.4 453.1,763.0 455.8,763.7 C458.4,764.3 461.1,765.0 463.8,765.6 C466.4,766.2 469.1,766.8 471.8,767.3 C474.4,767.9 477.1,768.4 479.8,769.0 C482.5,769.5 485.1,770.0 487.8,770.5 C490.5,770.9 493.1,771.4 495.8,771.9 C498.5,772.3 501.1,772.8 503.8,773.2 C506.5,773.6 509.1,774.0 511.8,774.4 C514.5,774.8 517.2,775.1 519.8,775.5 C522.5,775.9 525.2,776.2 527.8,776.6 C530.5,776.9 533.2,777.2 535.8,777.5 C538.5,777.8 541.2,778.1 543.9,778.4 C546.5,778.7 549.2,779.0 551.9,779.3 C554.5,779.5 558.5,779.9 559.9,780.0" fill="none" stroke="#5a5a5a" stroke-width="1.3"/>
<path d="M155.0,787.8 C156.0,785.6 159.0,778.8 161.0,774.5 C163.0,770.2 165.1,766.0 167.1,761.9 C169.1,757.9 171.1,753.9 173.1,750.1 C175.1,746.2 177.1,742.5 179.1,738.9 C181.2,735.2 183.2,731.7 185.2,728.3 C187.2,724.8 189.2,721.5 191.2,718.3 C193.2,715.0 195.2,711.9 197.2,708.8 C199.3,705.8 201.3,702.8 203.3,699.9 C205.3,697.0 207.3,694.2 209.3,691.5 C211.3,688.8 213.3,686.1 215.4,683.5 C217.4,681.0 219.4,678.5 221.4,676.0 C223.4,673.6 225.4,671.2 227.4,668.9 C229.4,666.6 231.5,664.4 233.5,662.2 C235.5,660.1 238.5,657.0 239.5,655.9 L239.5,655.9 C240.8,657.2 244.8,661.1 247.5,663.7 C250.2,666.2 252.8,668.8 255.5,671.3 C258.2,673.8 260.9,676.2 263.5,678.5 C266.2,680.9 268.9,683.2 271.5,685.4 C274.2,687.7 276.9,689.8 279.5,692.0 C282.2,694.1 284.9,696.1 287.6,698.1 C290.2,700.1 292.9,702.0 295.6,703.9 C298.2,705.8 300.9,707.6 303.6,709.3 C306.2,711.1 308.9,712.8 311.6,714.5 C314.3,716.1 316.9,717.7 319.6,719.3 C322.3,720.8 324.9,722.3 327.6,723.8 C330.3,725.3 332.9,726.7 335.6,728.0 C338.3,729.4 341.0,730.7 343.6,732.0 C346.3,733.3 349.0,734.6 351.6,735.8 C354.3,737.0 357.0,738.1 359.6,739.3 C362.3,740.4 365.0,741.5 367.6,742.5 C370.3,743.6 373.0,744.6 375.7,745.6 C378.3,746.6 381.0,747.6 383.7,748.5 C386.3,749.4 389.0,750.3 391.7,751.2 C394.3,752.1 397.0,752.9 399.7,753.7 C402.4,754.5 405.0,755.3 407.7,756.1 C410.4,756.9 413.0,757.6 415.7,758.3 C418.4,759.0 421.0,759.7 423.7,760.4 C426.4,761.1 429.1,761.7 431.7,762.3 C434.4,762.9 437.1,763.6 439.7,764.1 C442.4,764.7 445.1,765.3 447.7,765.8 C450.4,766.4 453.1,766.9 455.8,767.4 C458.4,767.9 461.1,768.4 463.8,768.9 C466.4,769.4 469.1,769.9 471.8,770.3 C474.4,770.7 477.1,771.2 479.8,771.6 C482.5,772.0 485.1,772.4 487.8,772.8 C490.5,773.2 493.1,773.6 495.8,773.9 C498.5,774.3 501.1,774.7 503.8,775.0 C506.5,775.4 509.1,775.7 511.8,776.0 C514.5,776.3 517.2,776.6 519.8,776.9 C522.5,777.2 525.2,777.5 527.8,777.8 C530.5,778.1 533.2,778.3 535.8,778.6 C538.5,778.9 541.2,779.1 543.9,779.4 C546.5,779.6 549.2,779.8 551.9,780.1 C554.5,780.3 558.5,780.6 559.9,780.7" fill="none" stroke="#5a5a5a" stroke-width="1.3" stroke-dasharray="7.5,7"/>
<path d="M155.0,787.8 C156.0,786.8 159.0,783.5 161.0,781.5 C163.0,779.5 165.1,777.6 167.1,775.7 C169.1,773.9 171.1,772.1 173.1,770.4 C175.1,768.7 177.1,767.0 179.1,765.4 C181.2,763.9 183.2,762.3 185.2,760.9 C187.2,759.4 189.2,758.0 191.2,756.6 C193.2,755.3 195.2,754.0 197.2,752.7 C199.3,751.5 201.3,750.3 203.3,749.1 C205.3,748.0 207.3,746.8 209.3,745.8 C211.3,744.7 213.3,743.7 215.4,742.7 C217.4,741.7 219.4,740.8 221.4,739.8 C223.4,738.9 225.4,738.0 227.4,737.2 C229.4,736.3 231.5,735.5 233.5,734.8 C235.5,734.0 238.5,732.9 239.5,732.5 L239.5,732.5 C240.8,733.0 244.8,734.4 247.5,735.5 C250.2,736.5 252.8,737.7 255.5,738.8 C258.2,739.9 260.9,741.0 263.5,742.1 C266.2,743.2 268.9,744.3 271.5,745.3 C274.2,746.4 276.9,747.4 279.5,748.4 C282.2,749.4 284.9,750.4 287.6,751.4 C290.2,752.3 292.9,753.2 295.6,754.1 C298.2,755.0 300.9,755.9 303.6,756.8 C306.2,757.6 308.9,758.4 311.6,759.2 C314.3,760.0 316.9,760.8 319.6,761.5 C322.3,762.2 324.9,762.9 327.6,763.6 C330.3,764.3 332.9,765.0 335.6,765.6 C338.3,766.2 341.0,766.8 343.6,767.4 C346.3,768.0 349.0,768.6 351.6,769.1 C354.3,769.6 357.0,770.2 359.6,770.7 C362.3,771.2 365.0,771.6 367.6,772.1 C370.3,772.6 373.0,773.0 375.7,773.4 C378.3,773.8 381.0,774.3 383.7,774.6 C386.3,775.0 389.0,775.4 391.7,775.8 C394.3,776.1 397.0,776.5 399.7,776.8 C402.4,777.1 405.0,777.4 407.7,777.7 C410.4,778.0 413.0,778.3 415.7,778.6 C418.4,778.9 421.0,779.1 423.7,779.4 C426.4,779.6 429.1,779.9 431.7,780.1 C434.4,780.3 437.1,780.6 439.7,780.8 C442.4,781.0 445.1,781.2 447.7,781.4 C450.4,781.6 453.1,781.7 455.8,781.9 C458.4,782.1 461.1,782.3 463.8,782.4 C466.4,782.6 469.1,782.7 471.8,782.9 C474.4,783.0 477.1,783.2 479.8,783.3 C482.5,783.4 485.1,783.5 487.8,783.7 C490.5,783.8 493.1,783.9 495.8,784.0 C498.5,784.1 501.1,784.2 503.8,784.3 C506.5,784.4 509.1,784.5 511.8,784.6 C514.5,784.7 517.2,784.8 519.8,784.9 C522.5,784.9 525.2,785.0 527.8,785.1 C530.5,785.2 533.2,785.2 535.8,785.3 C538.5,785.4 541.2,785.4 543.9,785.5 C546.5,785.6 549.2,785.6 551.9,785.7 C554.5,785.7 558.5,785.8 559.9,785.8" fill="none" stroke="#1a1a1a" stroke-width="1.5"/>
<path d="M155.0,787.8 C156.0,787.2 159.0,785.2 161.0,783.9 C163.0,782.7 165.1,781.4 167.1,780.2 C169.1,779.0 171.1,777.8 173.1,776.6 C175.1,775.5 177.1,774.3 179.1,773.2 C181.2,772.1 183.2,770.9 185.2,769.8 C187.2,768.8 189.2,767.7 191.2,766.6 C193.2,765.6 195.2,764.5 197.2,763.5 C199.3,762.5 201.3,761.5 203.3,760.5 C205.3,759.5 207.3,758.6 209.3,757.6 C211.3,756.7 213.3,755.7 215.4,754.8 C217.4,753.9 219.4,753.0 221.4,752.1 C223.4,751.2 225.4,750.4 227.4,749.5 C229.4,748.7 231.5,747.8 233.5,747.0 C235.5,746.2 238.5,745.0 239.5,744.6 L239.5,744.6 C240.8,745.0 244.8,746.0 247.5,746.7 C250.2,747.5 252.8,748.3 255.5,749.1 C258.2,749.9 260.9,750.7 263.5,751.5 C266.2,752.3 268.9,753.1 271.5,753.9 C274.2,754.7 276.9,755.5 279.5,756.2 C282.2,757.0 284.9,757.7 287.6,758.4 C290.2,759.1 292.9,759.8 295.6,760.5 C298.2,761.2 300.9,761.9 303.6,762.5 C306.2,763.1 308.9,763.8 311.6,764.4 C314.3,765.0 316.9,765.6 319.6,766.1 C322.3,766.7 324.9,767.3 327.6,767.8 C330.3,768.3 332.9,768.8 335.6,769.3 C338.3,769.8 341.0,770.3 343.6,770.8 C346.3,771.2 349.0,771.7 351.6,772.1 C354.3,772.6 357.0,773.0 359.6,773.4 C362.3,773.8 365.0,774.2 367.6,774.5 C370.3,774.9 373.0,775.3 375.7,775.6 C378.3,776.0 381.0,776.3 383.7,776.6 C386.3,776.9 389.0,777.3 391.7,777.5 C394.3,777.8 397.0,778.1 399.7,778.4 C402.4,778.7 405.0,778.9 407.7,779.2 C410.4,779.5 413.0,779.7 415.7,779.9 C418.4,780.2 421.0,780.4 423.7,780.6 C426.4,780.8 429.1,781.0 431.7,781.2 C434.4,781.4 437.1,781.6 439.7,781.8 C442.4,782.0 445.1,782.2 447.7,782.3 C450.4,782.5 453.1,782.7 455.8,782.8 C458.4,783.0 461.1,783.1 463.8,783.3 C466.4,783.4 469.1,783.6 471.8,783.7 C474.4,783.8 477.1,784.0 479.8,784.1 C482.5,784.2 485.1,784.3 487.8,784.4 C490.5,784.5 493.1,784.6 495.8,784.7 C498.5,784.8 501.1,784.9 503.8,785.0 C506.5,785.1 509.1,785.2 511.8,785.3 C514.5,785.4 517.2,785.5 519.8,785.5 C522.5,785.6 525.2,785.7 527.8,785.8 C530.5,785.8 533.2,785.9 535.8,786.0 C538.5,786.0 541.2,786.1 543.9,786.2 C546.5,786.2 549.2,786.3 551.9,786.3 C554.5,786.4 558.5,786.5 559.9,786.5" fill="none" stroke="#1a1a1a" stroke-width="1.4" stroke-dasharray="7.5,7"/>
<text x="111.5" y="593.0" font-size="33">3W/cm<tspan font-size="18" dy="-12">2</tspan></text>
<line x1="159.0" y1="602.0" x2="212.3" y2="637.6" stroke="#1a1a1a" stroke-width="1.3" />
<polygon points="219.0,642.0 209.0,638.9 211.9,637.3 212.3,634.0" fill="#1a1a1a"/>
<line x1="159.0" y1="602.0" x2="198.6" y2="684.8" stroke="#1a1a1a" stroke-width="1.3" />
<polygon points="202.0,692.0 195.0,684.3 198.3,684.3 200.4,681.7" fill="#1a1a1a"/>
<text x="315.5" y="574.3" font-size="33">5W/cm<tspan font-size="18" dy="-12">2</tspan></text>
<line x1="362.3" y1="575.4" x2="306.6" y2="602.8" stroke="#1a1a1a" stroke-width="1.3" />
<polygon points="299.4,606.3 307.1,599.2 307.0,602.6 309.7,604.6" fill="#1a1a1a"/>
<line x1="362.3" y1="575.4" x2="321.4" y2="652.9" stroke="#1a1a1a" stroke-width="1.3" />
<polygon points="317.7,660.0 319.7,649.8 321.7,652.5 325.0,652.6" fill="#1a1a1a"/>
<text x="185.0" y="810.0" font-size="33">1W/cm<tspan font-size="18" dy="-12">2</tspan></text>
<line x1="235.0" y1="780.0" x2="218.6" y2="753.8" stroke="#1a1a1a" stroke-width="1.3" />
<polygon points="214.4,747.0 222.2,753.9 218.9,754.2 217.2,757.1" fill="#1a1a1a"/>
<line x1="235.0" y1="780.0" x2="266.9" y2="763.7" stroke="#1a1a1a" stroke-width="1.3" />
<polygon points="274.0,760.0 266.5,767.2 266.4,763.9 263.7,761.9" fill="#1a1a1a"/>
</svg></body></html>
